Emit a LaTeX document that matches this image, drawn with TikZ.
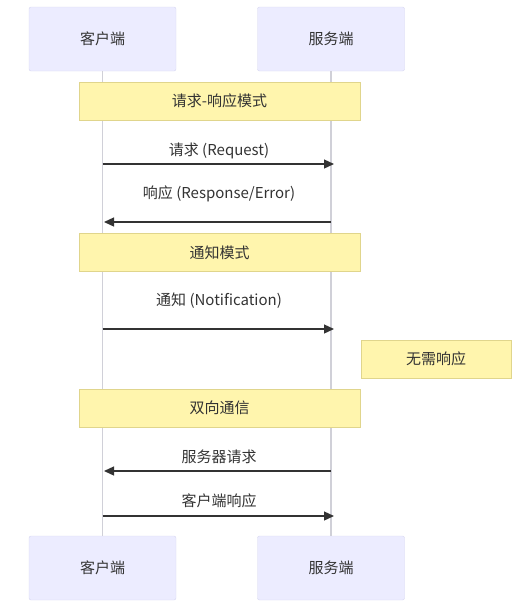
\documentclass[tikz,border=0pt]{standalone}
\usepackage{fontspec}
\setmainfont{Noto Sans CJK SC}
\usetikzlibrary{arrows.meta}

\definecolor{actorfill}{HTML}{ECECFF}
\definecolor{actorline}{HTML}{D6D6F0}
\definecolor{notefill}{HTML}{FFF5AD}
\definecolor{noteline}{HTML}{E0D58C}
\definecolor{lifecol}{HTML}{D0D0D8}
\definecolor{msgcol}{HTML}{333333}

\begin{document}
\begin{tikzpicture}[x=1pt, y=-1pt, >={Triangle[length=10pt, width=9pt]},
  actor/.style={draw=actorline, fill=actorfill, rounded corners=2pt, minimum width=147pt, minimum height=64pt, font=\fontsize{15}{18}\selectfont, text=msgcol},
  note/.style={draw=noteline, fill=notefill, minimum height=38pt, font=\fontsize{15}{18}\selectfont, text=msgcol},
  msg/.style={->, draw=msgcol, line width=1.3pt},
  label/.style={font=\fontsize{15}{18}\selectfont, text=msgcol},
  lifeline/.style={draw=lifecol, line width=1.2pt}]

\useasboundingbox (0,0) rectangle (530,606);

% Define nodes
\node[actor] (client) at (102.5, 39) {客户端};
\node[actor] (server) at (331, 39) {服务端};
\node[actor] (client2) at (102.5, 568) {客户端};
\node[actor] (server2) at (331, 568) {服务端};

% Lifelines
\draw[lifeline] (client) -- (client2);
\draw[lifeline] (server) -- (server2);

% Notes
\node[note, minimum width=281pt] (reqresp) at (219.5, 101) {请求-响应模式};
\node[note, minimum width=281pt] (notify) at (219.5, 252.5) {通知模式};
\node[note, minimum width=150pt] (noreply) at (436, 359) {无需响应};
\node[note, minimum width=281pt] (duplex) at (219.5, 408) {双向通信};

% Message anchors on the lifelines
\coordinate (c1) at (102.5, 164);  \coordinate (s1) at (334, 164);
\coordinate (c2) at (104, 222);    \coordinate (s2) at (331, 222);
\coordinate (c3) at (102.5, 329);  \coordinate (s3) at (334, 329);
\coordinate (c4) at (104, 471);    \coordinate (s4) at (331, 471);
\coordinate (c5) at (102.5, 516);  \coordinate (s5) at (334, 516);

% Draw edges
\draw[msg] (c1) -- (s1);
\draw[msg] (s2) -- (c2);
\draw[msg] (c3) -- (s3);
\draw[msg] (s4) -- (c4);
\draw[msg] (c5) -- (s5);

% Message labels
\node[label] (l1) at (219, 151) {请求 (Request)};
\node[label] (l2) at (219, 194) {响应 (Response/Error)};
\node[label] (l3) at (219, 301) {通知 (Notification)};
\node[label] (l4) at (219, 457) {服务器请求};
\node[label] (l5) at (219, 501) {客户端响应};

\end{tikzpicture}
\end{document}
